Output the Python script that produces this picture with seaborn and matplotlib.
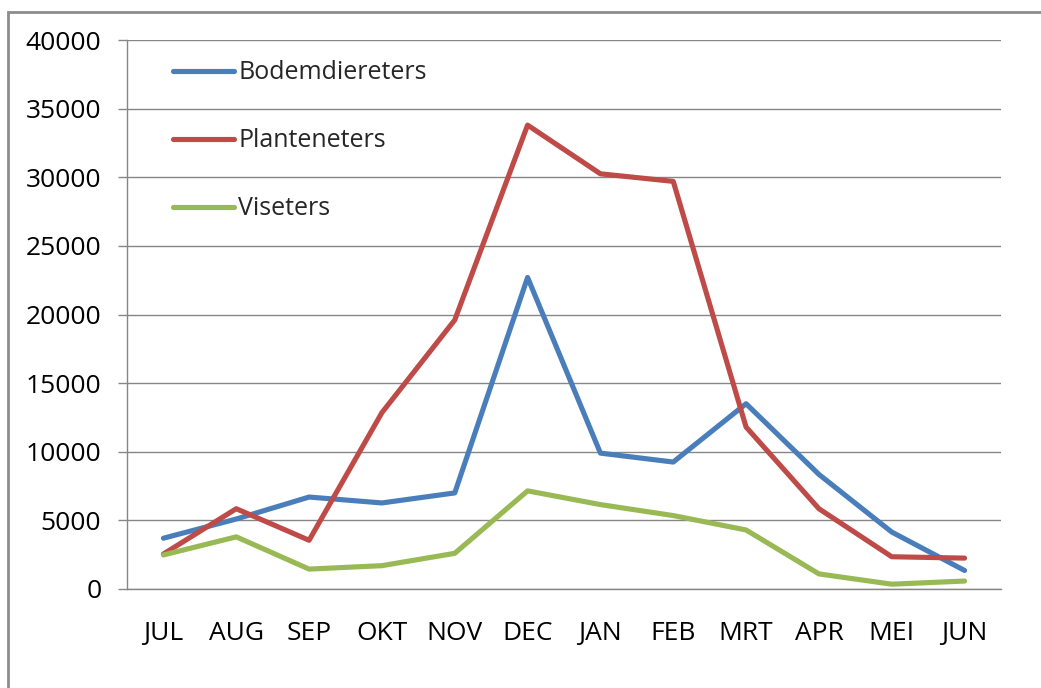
# Maandelijkse aantallen per voedselgroep (lijngrafiek in Excel-stijl)

import matplotlib
matplotlib.use("Agg")
import matplotlib.pyplot as plt
import matplotlib.patches as patches
import pandas as pd
import seaborn as sns

maanden = ['JUL', 'AUG', 'SEP', 'OKT', 'NOV', 'DEC', 'JAN', 'FEB', 'MRT', 'APR', 'MEI', 'JUN']
bodemdiereters = [3700, 5100, 6700, 6270, 7000, 22700, 9900, 9250, 13500, 8350, 4150, 1350]
planteneters = [2550, 5850, 3550, 12850, 19600, 33800, 30250, 29700, 11800, 5850, 2350, 2250]
viseters = [2480, 3800, 1450, 1700, 2600, 7150, 6150, 5350, 4300, 1100, 350, 580]

groepen = ['Bodemdiereters', 'Planteneters', 'Viseters']
kleuren = ['#4A7EBB', '#BE4B48', '#98B954']

df = pd.DataFrame({
    'maand': maanden * 3,
    'aantal': bodemdiereters + planteneters + viseters,
    'groep': [g for g in groepen for _ in maanden],
})

sns.set_style('white')
plt.rcParams['font.family'] = ['Open Sans', 'DejaVu Sans']

fig = plt.figure(figsize=(10.41, 6.88), dpi=100)
ax = fig.add_axes([127 / 1041, 1 - 589 / 688, 874 / 1041, 549 / 688])

sns.lineplot(data=df, x='maand', y='aantal', hue='groep', palette=kleuren,
             linewidth=3.7, sort=False, ax=ax)

ax.set_xlim(-0.5, len(maanden) - 0.5)
ax.set_ylim(0, 40000)
ax.set_yticks(range(0, 40001, 5000))
ax.set_xlabel('')
ax.set_ylabel('')

# gridlijnen en assen in grijs
ax.grid(axis='y', color='#868686', linewidth=1)
ax.grid(axis='x', visible=False)
ax.set_axisbelow(True)
for side in ['top', 'right']:
    ax.spines[side].set_visible(False)
for side in ['left', 'bottom']:
    ax.spines[side].set_color('#868686')
    ax.spines[side].set_linewidth(1)

ax.set_xticks(range(len(maanden)))
ax.set_xticklabels(maanden)
ax.set_xticks([i - 0.5 for i in range(len(maanden) + 1)], minor=True)
ax.tick_params(axis='x', which='major', length=0, pad=23, labelsize=19, colors='#000000')
ax.tick_params(axis='x', which='minor', length=8, width=1, color='#868686', direction='out')
ax.tick_params(axis='y', length=6.5, width=1, color='#868686', pad=12, labelsize=19,
               left=True, labelcolor='#000000')

handles, labels = ax.get_legend_handles_labels()
ax.legend(handles, labels, loc='upper left', bbox_to_anchor=(0.047, 0.972),
          frameon=False, fontsize=18, handlelength=2.45, handletextpad=0.15,
          labelspacing=1.72, borderpad=0.2, borderaxespad=0)

# grijze rand om de grafiek
fig.patches.append(patches.Rectangle((8 / 1041, -0.05), 1.1, (688 - 12) / 688 + 0.05,
                                     transform=fig.transFigure, fill=False,
                                     edgecolor='#8C8C8C', linewidth=2))

fig.savefig('out.png', dpi=100)
